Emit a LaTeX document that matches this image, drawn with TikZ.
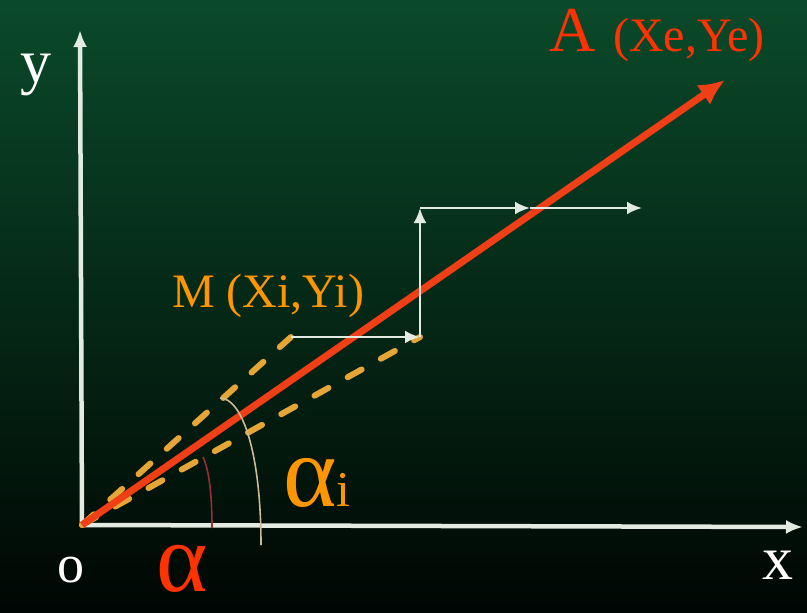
\documentclass[tikz,border=0pt]{standalone}
\usepackage{fontspec}
\setmainfont{Liberation Serif}
\usetikzlibrary{arrows.meta}
\definecolor{bgtop}{RGB}{10,74,42}
\definecolor{bgmid}{RGB}{4,44,24}
\definecolor{bgbot}{RGB}{0,6,3}
\definecolor{axiswhite}{RGB}{226,234,226}
\definecolor{vecred}{RGB}{240,62,22}
\definecolor{dashorange}{RGB}{230,165,55}
\definecolor{labelorange}{RGB}{255,150,0}
\definecolor{labelred}{RGB}{255,50,0}
\definecolor{arcred}{RGB}{150,45,55}
\definecolor{arcbeige}{RGB}{205,185,150}
\tikzset{
  axisline/.style={draw=axiswhite,line width=4.5pt,-{Latex[length=17pt,width=14pt]}},
  feedline/.style={draw=axiswhite,line width=2.8pt,-{Latex[length=15pt,width=13pt]}},
  stepdash/.style={draw=dashorange,line width=6pt,dash pattern=on 16pt off 22pt,line cap=round},
  txt/.style={inner sep=0pt,anchor=base west}
}
\begin{document}
\begin{tikzpicture}[x=1pt,y=-1pt]
\shade[top color=bgtop,middle color=bgmid,bottom color=bgbot] (0,0) rectangle (807,613);
\useasboundingbox (0,0) rectangle (807,613);
\coordinate (O) at (82,525);
\coordinate (Ytop) at (80,30);
\coordinate (Xend) at (803,527);
\coordinate (A) at (725,80);
\coordinate (M) at (291,337);
\coordinate (P1) at (420,337);
\coordinate (P2) at (420,208);
\coordinate (P3) at (530,208);
\coordinate (P4) at (642,208);
\draw[axisline] (O)--(Ytop);
\draw[axisline] (O)--(Xend);
\draw[stepdash] (O)--(M);
\draw[stepdash] (O)--(P1);
\draw[draw=vecred,line width=7pt,-{Latex[length=26pt,width=24pt]}] (O)--(A);
\foreach \a/\b in {M/P1,P1/P2,P2/P3,P3/P4}
{
    \draw[feedline] (\a)--(\b);
}
\draw[arcred,line width=1.6pt] (203,457) .. controls (210,472) and (212,500) .. (212,528);
\draw[arcbeige,line width=1.6pt] (220,398) .. controls (242,398) and (261,452) .. (261,545);
\node[txt,text=labelred] (Alab) at (549,51) {\fontsize{64}{64}\selectfont A};
\node[txt,text=labelred] (Acoord) at (613,51) {\fontsize{48}{48}\selectfont (Xe,Ye)};
\node[txt,text=labelorange] (Mlab) at (172,307) {\fontsize{48}{48}\selectfont M (Xi,Yi)};
\node[txt,text=white] (ylab) at (20,82) {\fontsize{62}{62}\selectfont y};
\node[txt,text=white] (xlab) at (762,579) {\fontsize{62}{62}\selectfont x};
\node[txt,text=white] (olab) at (57,582) {\fontsize{54}{54}\selectfont o};
\node[txt,text=labelred,text depth=0pt] (alpha) at (156,591) {\fontsize{98}{98}\selectfont α};
\node[txt,text=labelorange] (alphai) at (283,506) {\fontsize{102}{102}\selectfont α\fontsize{50}{50}\selectfont i};
\end{tikzpicture}
\end{document}
